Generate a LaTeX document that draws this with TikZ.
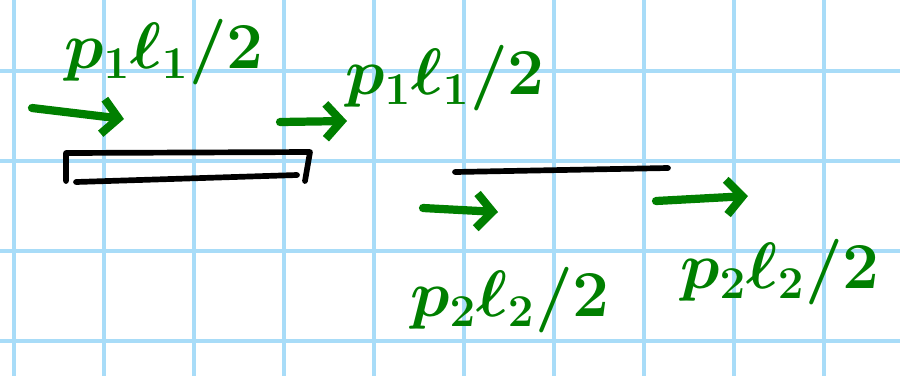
\documentclass[tikz,border=0pt]{standalone}
\usepackage{tikz}
\usetikzlibrary{arrows.meta}
\usepackage{xcolor}
\definecolor{inkgreen}{HTML}{007F00}
\definecolor{gridblue}{HTML}{A8DCF8}

\begin{document}
\begin{tikzpicture}[
  x=0.11111mm, y=-0.11111mm,
  gridline/.style={draw=gridblue, line width=1pt},
  beam/.style={draw=black, line width=1.8pt, line cap=round, line join=round},
  force/.style={-{Straight Barb[length=5pt,width=11pt]}, draw=inkgreen, line width=2.6pt, line cap=round},
  load/.style={text=inkgreen, font=\fontsize{20}{24}\selectfont\boldmath, inner sep=0pt}
]

\useasboundingbox (0,0) rectangle (900,376);

% Grid paper
\foreach \gx in {14,104,...,824} \draw[gridline] (\gx,0) -- (\gx,376);
\foreach \gy in {71,161,251,341} \draw[gridline] (0,\gy) -- (900,\gy);

% Plate (left) and thin beam (right)
\draw[beam] (66,181) -- (66,153) -- (310,152) -- (305,181);
\draw[beam] (76,182) -- (297,175);
\draw[beam] (455,172) -- (668,168);

% Arrow ends
\coordinate (a1s) at (32,108);  \coordinate (a1e) at (124,119);
\coordinate (a2s) at (280,122); \coordinate (a2e) at (347,121);
\coordinate (a3s) at (423,208); \coordinate (a3e) at (498,212);
\coordinate (a4s) at (656,201); \coordinate (a4e) at (748,196);

% Arrows
\draw[force] (a1s) -- (a1e);
\draw[force] (a2s) -- (a2e);
\draw[force] (a3s) -- (a3e);
\draw[force] (a4s) -- (a4e);

% Labels
\node[load] (q1) at (164,52) {$p_1\ell_1/2$};
\node[load] (q2) at (445,78) {$p_1\ell_1/2$};
\node[load] (q3) at (510,300) {$p_2\ell_2/2$};
\node[load] (q4) at (780,272) {$p_2\ell_2/2$};

\end{tikzpicture}
\end{document}
